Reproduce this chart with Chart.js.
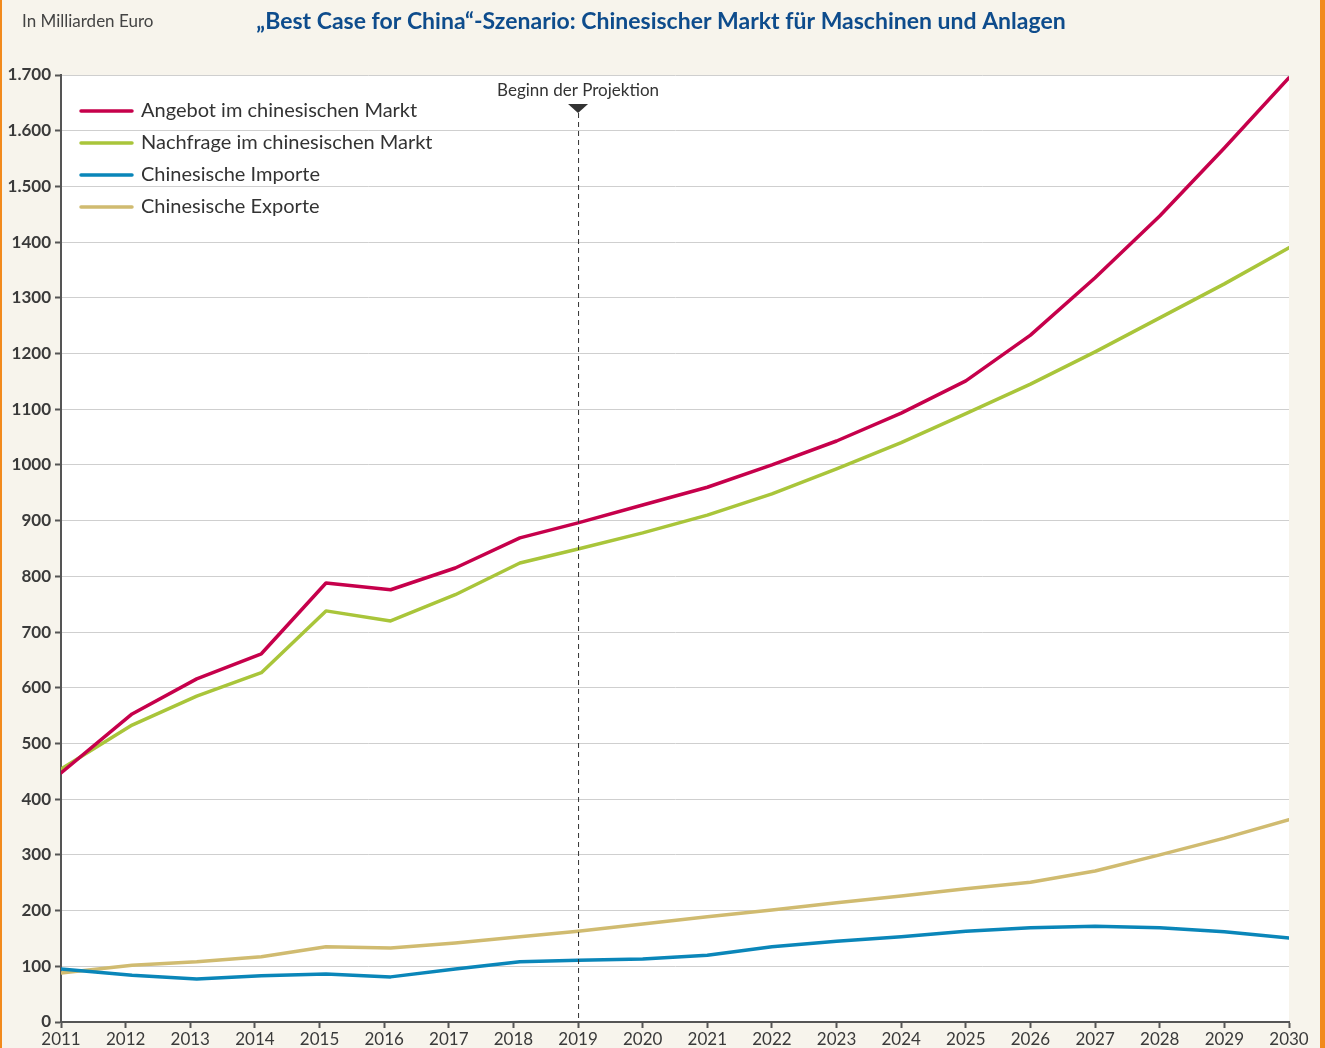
<!DOCTYPE html>
<html>
<head>
<meta charset="utf-8">
<script src="https://cdn.jsdelivr.net/npm/chart.js@4"></script>
<style>
  html, body { margin: 0; padding: 0; background: #f7f4ec; }
  #wrap { width: 1325px; height: 1048px; }
</style>
</head>
<body>
<div id="wrap"><canvas id="chart"></canvas></div>
<script>
const years = [2011, 2012.1, 2013.1, 2014.1, 2015.1, 2016.1, 2017.1, 2018.1, 2019, 2020, 2021, 2022, 2023, 2024, 2025, 2026, 2027, 2028, 2029, 2030]
const angebot = [447, 553, 616, 661, 788, 776, 815, 869, 896, 928, 960, 1000, 1043, 1093, 1151, 1233, 1336, 1447, 1569, 1695]
const nachfrage = [454, 533, 585, 627, 738, 720, 767, 824, 849, 878, 910, 948, 993, 1040, 1092, 1145, 1203, 1264, 1325, 1390]
const importe = [95, 84, 77, 83, 86, 81, 95, 108, 111, 113, 120, 135, 145, 153, 163, 169, 172, 169, 162, 151]
const exporte = [88, 102, 108, 117, 135, 133, 142, 153, 163, 176, 189, 201, 214, 226, 239, 251, 271, 300, 330, 363]
const seriesNames = ['Angebot im chinesischen Markt', 'Nachfrage im chinesischen Markt', 'Chinesische Importe', 'Chinesische Exporte']
const projectionStart = 2019

const title = '„Best Case for China“-Szenario: Chinesischer Markt für Maschinen und Anlagen'
const unitLabel = 'In Milliarden Euro'

const toPoints = (vals) => vals.map((v, i) => ({ x: years[i], y: v }))

const makeSet = (label, vals, color) => ({
    label: label,
    data: toPoints(vals),
    borderColor: color,
    backgroundColor: color,
    borderWidth: 3.5,
    pointRadius: 0,
    tension: 0,
    borderJoinStyle: 'round',
    borderCapStyle: 'round'
})

const frame = {
    id: 'frame',
    beforeDraw(chart) {
        const c = chart.ctx
        const a = chart.chartArea
        c.save()
        c.fillStyle = '#f7f4ec'
        c.fillRect(0, 0, chart.width, chart.height)
        c.fillStyle = '#ffffff'
        c.fillRect(a.left, a.top, a.right - a.left, a.bottom - a.top)
        c.fillStyle = '#f28a1c'
        c.fillRect(0, 0, 2, chart.height)
        c.fillRect(chart.width - 5, 0, 5, chart.height)
        // header texts
        c.fillStyle = '#444'
        c.font = '17px Lato'
        c.textBaseline = 'middle'
        c.textAlign = 'left'
        c.fillText(unitLabel, 22, 22)
        c.fillStyle = '#0e4c8c'
        c.font = 'bold 23px Lato'
        c.textAlign = 'center'
        c.fillText(title, 661, 22)
        c.restore()
    },
    afterDatasetsDraw(chart) {
        const c = chart.ctx
        const a = chart.chartArea
        const x = chart.scales.x.getPixelForValue(projectionStart)
        c.save()
        c.strokeStyle = '#333'
        c.lineWidth = 1
        c.setLineDash([5, 4])
        c.beginPath()
        c.moveTo(x + 0.5, a.top + 38)
        c.lineTo(x + 0.5, a.bottom)
        c.stroke()
        c.setLineDash([])
        c.fillStyle = '#333'
        c.beginPath()
        c.moveTo(x - 10, a.top + 29)
        c.lineTo(x + 10, a.top + 29)
        c.lineTo(x, a.top + 38)
        c.closePath()
        c.fill()
        c.font = '17px Lato'
        c.textAlign = 'center'
        c.textBaseline = 'middle'
        c.fillText('Beginn der Projektion', x, a.top + 16)

        // legend
        c.font = '20px Lato'
        c.textAlign = 'left'
        chart.data.datasets.forEach((ds, i) => {
            const y = a.top + 36 + i * 32
            c.strokeStyle = ds.borderColor
            c.lineWidth = 3.5
            c.lineCap = 'round'
            c.beginPath()
            c.moveTo(a.left + 20, y)
            c.lineTo(a.left + 71, y)
            c.stroke()
            c.fillStyle = '#333'
            c.fillText(ds.label, a.left + 80, y)
        })
        c.restore()
    }
}

new Chart(document.getElementById('chart'), {
    type: 'line',
    data: {
        datasets: [
            makeSet(seriesNames[0], angebot, '#c6004b'),
            makeSet(seriesNames[1], nachfrage, '#a9c53a'),
            makeSet(seriesNames[2], importe, '#0a86b9'),
            makeSet(seriesNames[3], exporte, '#d0bb70')
        ]
    },
    options: {
        responsive: true,
        maintainAspectRatio: false,
        animation: false,
        layout: { padding: { top: 75, right: 36, left: 0, bottom: 0 } },
        plugins: {
            legend: { display: false },
            tooltip: { enabled: false }
        },
        scales: {
            x: {
                type: 'linear',
                min: 2011,
                max: 2030,
                afterFit: (s) => { s.height = 26 },
                ticks: {
                    stepSize: 1,
                    padding: 1,
                    color: '#3a3a3a',
                    font: { family: 'Lato', size: 17 },
                    callback: (v) => String(v)
                },
                grid: {
                    drawOnChartArea: false,
                    drawTicks: true,
                    tickLength: 6,
                    tickColor: '#555',
                    tickWidth: 2
                },
                border: { color: '#555', width: 2 }
            },
            y: {
                min: 0,
                max: 1700,
                afterFit: (s) => { s.width = 61 },
                ticks: {
                    stepSize: 100,
                    padding: 4,
                    color: '#3a3a3a',
                    font: { family: 'Lato', size: 17, weight: 'bold' },
                    callback: (v) => v >= 1500 ? (v / 1000).toFixed(3) : String(v)
                },
                grid: {
                    color: '#cfcfcf',
                    lineWidth: 1,
                    drawTicks: true,
                    tickLength: 6,
                    tickColor: '#555',
                    tickWidth: 2
                },
                border: { color: '#555', width: 2 }
            }
        }
    },
    plugins: [frame]
})
</script>
</body>
</html>
